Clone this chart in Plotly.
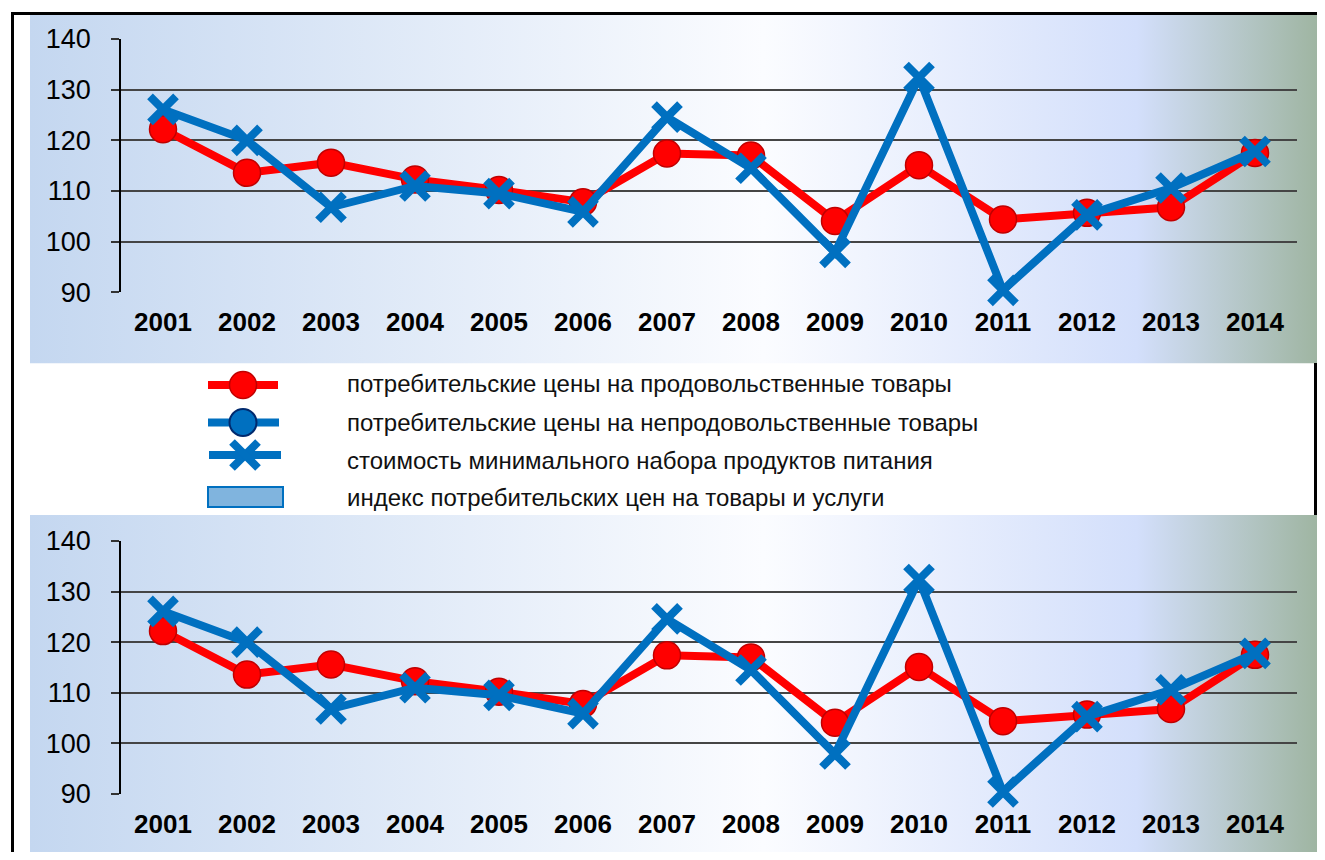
import base64
import plotly.graph_objects as go

# data (indices, previous year = 100)
years = ["2001", "2002", "2003", "2004", "2005", "2006", "2007",
         "2008", "2009", "2010", "2011", "2012", "2013", "2014"]
food_prices = [122.2, 113.6, 115.6, 112.3, 110.2, 107.8, 117.4,
               117.0, 104.1, 115.1, 104.4, 105.7, 106.8, 117.5]
min_food_basket = [126.1, 120.0, 106.8, 111.0, 109.5, 105.9, 124.6,
                   114.5, 97.9, 132.4, 90.4, 105.3, 110.6, 117.8]
y_ticks = [90, 100, 110, 120, 130, 140]
legend_labels = [
    "потребительские цены на продовольственные товары",
    "потребительские цены на непродовольственные товары",
    "стоимость минимального набора продуктов питания",
    "индекс потребительских цен на товары и услуги",
]

OFF = 8  # page body margin; positions below are screen pixels
W, H = 1325 - 2 * OFF, 860 - 2 * OFF
FONT = "Arial, 'Liberation Sans', sans-serif"
RED = "#ff0000"
BLUE = "#0070c0"


def px(x):
    return (x - OFF) / W


def py(y):
    return 1 - (y - OFF) / H


# gradient used behind both chart panels
svg = """<svg xmlns='http://www.w3.org/2000/svg' width='100' height='100' preserveAspectRatio='none'>
<defs><linearGradient id='g' x1='0' y1='0' x2='1' y2='0'>
<stop offset='0' stop-color='#c4d7f0'/>
<stop offset='0.57' stop-color='#fbfcff'/>
<stop offset='0.86' stop-color='#d3dffb'/>
<stop offset='1' stop-color='#9fb5a2'/>
</linearGradient></defs>
<rect width='100' height='100' fill='url(#g)'/></svg>"""
bg_src = "data:image/svg+xml;base64," + base64.b64encode(svg.encode()).decode()

# panel geometry in screen pixels: plot top, plot bottom, background top, background bottom
panels = [(39, 292.4, 15, 363.5), (541, 794, 515, OFF + H)]
x_dom = [px(121), px(1297)]

fig = go.Figure()
layout = dict(
    width=W, height=H, autosize=False,
    margin=dict(l=0, r=0, t=0, b=0, pad=0, autoexpand=False),
    paper_bgcolor="white", plot_bgcolor="rgba(0,0,0,0)",
    font=dict(family=FONT, color="black"),
    showlegend=False,
    images=[], shapes=[], annotations=[],
)

for i, (top, bottom, bg_top, bg_bottom) in enumerate(panels):
    n = "" if i == 0 else "2"
    xa, ya = "x" + n, "y" + n
    # red line: food prices
    fig.add_trace(go.Scatter(
        x=years, y=food_prices, xaxis=xa, yaxis=ya, mode="lines+markers",
        name=legend_labels[0], cliponaxis=False,
        line=dict(color=RED, width=8),
        marker=dict(symbol="circle", size=27, color=RED,
                    line=dict(color="#c00000", width=1.5)),
    ))
    # blue line with crosses: minimal food basket cost
    fig.add_trace(go.Scatter(
        x=years, y=min_food_basket, xaxis=xa, yaxis=ya, mode="lines+markers",
        name=legend_labels[2], cliponaxis=False,
        line=dict(color=BLUE, width=8),
        marker=dict(symbol="x-thin-open", size=26, color=BLUE,
                    line=dict(color=BLUE, width=8)),
    ))

    y_dom = [py(bottom), py(top)]
    layout["xaxis" + n] = dict(
        domain=x_dom, anchor=ya, type="category", range=[-0.5, 13.5],
        showgrid=False, showline=False, zeroline=False, ticks="",
        tickfont=dict(size=26, family=FONT, weight="bold"),
        ticklabelstandoff=12, fixedrange=True, automargin=False,
    )
    layout["yaxis" + n] = dict(
        domain=y_dom, anchor=xa, range=[90, 140], tickvals=y_ticks,
        showgrid=True, gridcolor="#454545", gridwidth=1.5,
        showline=True, linecolor="black", linewidth=1.5,
        ticks="outside", ticklen=8, tickwidth=1.5, tickcolor="#333",
        tickfont=dict(size=27), ticklabelstandoff=15,
        zeroline=False, fixedrange=True, automargin=False,
    )
    # category boundary ticks sitting on the 100 line
    pos100 = y_dom[0] + (100 - 90) / (140 - 90) * (y_dom[1] - y_dom[0])
    layout["xaxis" + str(3 + i)] = dict(
        domain=x_dom, anchor="free", position=pos100, overlaying=xa,
        range=[-0.5, 13.5], tickvals=[k + 0.5 for k in range(14)],
        ticks="outside", ticklen=8, tickwidth=1.5, tickcolor="#333",
        showticklabels=False, showgrid=False, showline=False, zeroline=False,
        fixedrange=True, automargin=False,
    )
    layout["images"].append(dict(
        source=bg_src, xref="paper", yref="paper",
        x=px(30), y=py(bg_top), sizex=1 - px(30), sizey=(bg_bottom - bg_top) / H,
        xanchor="left", yanchor="top", sizing="stretch", layer="below",
    ))

# black frame
shapes = layout["shapes"]
line_k = dict(xref="paper", yref="paper", line=dict(color="black", width=3), layer="below")
shapes.append(dict(type="line", x0=px(11), x1=1, y0=py(13.5), y1=py(13.5), **line_k))
shapes.append(dict(type="line", x0=px(12.5), x1=px(12.5), y0=py(12), y1=0, **line_k))
shapes.append(dict(type="line", x0=px(1315.5), x1=px(1315.5), y0=py(363), y1=py(515), **line_k))

# hand-drawn legend keys
ref = dict(xref="paper", yref="paper", layer="above")
rows = [385, 422.5, 455, 497]
# 1: red line with circle
shapes.append(dict(type="line", x0=px(208), x1=px(278), y0=py(rows[0]), y1=py(rows[0]),
                   line=dict(color=RED, width=8), **ref))
shapes.append(dict(type="circle", x0=px(229.5), x1=px(256.5), y0=py(rows[0] + 13.5),
                   y1=py(rows[0] - 13.5), fillcolor=RED,
                   line=dict(color="#c00000", width=1.5), **ref))
# 2: blue line with circle
shapes.append(dict(type="line", x0=px(208), x1=px(279), y0=py(rows[1]), y1=py(rows[1]),
                   line=dict(color=BLUE, width=8), **ref))
shapes.append(dict(type="circle", x0=px(229.5), x1=px(256.5), y0=py(rows[1] + 13.5),
                   y1=py(rows[1] - 13.5), fillcolor=BLUE,
                   line=dict(color="#002a6e", width=2), **ref))
# 3: blue line with cross
shapes.append(dict(type="line", x0=px(209), x1=px(281), y0=py(rows[2]), y1=py(rows[2]),
                   line=dict(color=BLUE, width=8), **ref))
for dx in (-1, 1):
    shapes.append(dict(type="line", x0=px(245 - 13), x1=px(245 + 13),
                       y0=py(rows[2] - 13 * dx), y1=py(rows[2] + 13 * dx),
                       line=dict(color=BLUE, width=8), **ref))
# 4: bar key
shapes.append(dict(type="rect", x0=px(208), x1=px(283), y0=py(507), y1=py(487),
                   fillcolor="#80b4de", line=dict(color=BLUE, width=2), **ref))

for label, y in zip(legend_labels, [384, 422, 460, 497]):
    layout["annotations"].append(dict(
        text=label, xref="paper", yref="paper", x=px(345), y=py(y),
        xanchor="left", yanchor="middle", showarrow=False,
        font=dict(size=24, family=FONT, color="#111"),
    ))

fig.update_layout(**layout)
fig.write_html("out.html")
